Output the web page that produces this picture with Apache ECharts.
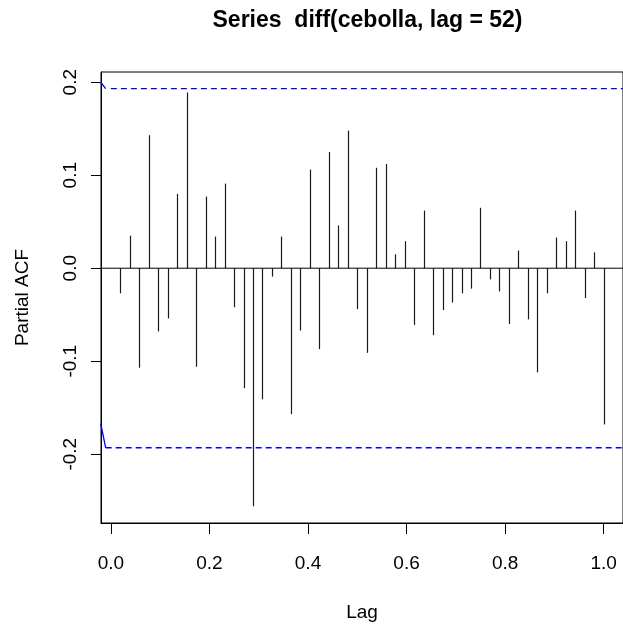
<!DOCTYPE html>
<html>
<head>
<meta charset="utf-8">
<script src="https://cdn.jsdelivr.net/npm/echarts@6/dist/echarts.min.js"></script>
<style>
html,body{margin:0;padding:0;background:#fff;}
#chart{width:623px;height:628px;}
</style>
</head>
<body>
<div id="chart"></div>
<script>
// Data (partial autocorrelations, lags 1..52 of a weekly series)
const frequency = 52;
const pacfValues = [
  -0.027, 0.035, -0.107, 0.143, -0.068, -0.054, 0.080, 0.189, -0.106, 0.077,
   0.034, 0.091, -0.042, -0.129, -0.256, -0.141, -0.009, 0.034, -0.157, -0.067,
   0.106, -0.087, 0.125, 0.046, 0.148, -0.044, -0.091, 0.108, 0.112, 0.015,
   0.029, -0.061, 0.062, -0.072, -0.045, -0.037, -0.027, -0.022, 0.065, -0.012,
  -0.025, -0.060, 0.019, -0.055, -0.112, -0.027, 0.033, 0.029, 0.062, -0.032,
   0.017, -0.168
];
const confLimit = 0.1931;
const xTicks = [0.0, 0.2, 0.4, 0.6, 0.8, 1.0];
const yTicks = [-0.2, -0.1, 0.0, 0.1, 0.2];
const xRange = [-0.02, 1.0392];
const yRange = [-0.274, 0.211];
// small solid blue strokes at the left edge of the confidence lines
const upperStub = [[-0.0206, 0.200], [-0.0105, 0.1931]];
const lowerStub = [[-0.0206, -0.167], [-0.0105, -0.1931]];
const upperStart = 0.0;
const lowerStart = -0.0105;
const titleText = 'Series  diff(cebolla, lag = 52)';

const lagData = pacfValues.map((v, i) => [(i + 1) / frequency, v]);
const FONT = "'Liberation Sans', Arial, Helvetica, sans-serif";

const chart = echarts.init(document.getElementById('chart'), null, {renderer: 'canvas'});
chart.setOption({
  animation: false,
  backgroundColor: '#ffffff',
  title: {
    text: titleText,
    left: 362.5,
    top: 4,
    textAlign: 'center',
    textStyle: {fontFamily: FONT, fontSize: 23, fontWeight: 'bold', color: '#000'}
  },
  grid: {
    left: 101, top: 72, width: 523.3, height: 451,
    show: true, borderColor: '#000', borderWidth: 1, backgroundColor: 'transparent'
  },
  xAxis: {
    type: 'value', min: xRange[0], max: xRange[1],
    name: 'Lag', nameLocation: 'middle', nameGap: 80,
    nameTextStyle: {fontFamily: FONT, fontSize: 19, color: '#000'},
    axisLine: {show: true, onZero: false, lineStyle: {color: '#000', width: 1}},
    axisTick: {show: true, length: 11, customValues: xTicks, lineStyle: {color: '#000'}},
    axisLabel: {show: true, customValues: xTicks, margin: 31, fontFamily: FONT, fontSize: 19, color: '#000',
      formatter: v => v.toFixed(1)},
    splitLine: {show: false}
  },
  yAxis: {
    type: 'value', min: yRange[0], max: yRange[1],
    name: 'Partial ACF', nameLocation: 'middle', nameGap: 69, nameRotate: 90,
    nameTextStyle: {fontFamily: FONT, fontSize: 19, color: '#000'},
    axisLine: {show: true, onZero: false, lineStyle: {color: '#000', width: 1}},
    axisTick: {show: true, length: 10, customValues: yTicks, lineStyle: {color: '#000'}},
    axisLabel: {show: true, customValues: yTicks, rotate: 90, margin: 21, fontFamily: FONT, fontSize: 19, color: '#000',
      formatter: v => v.toFixed(1)},
    splitLine: {show: false}
  },
  series: [
    {
      type: 'custom',
      data: lagData,
      clip: true,
      renderItem: function (params, api) {
        const x = api.value(0), y = api.value(1);
        const p0 = api.coord([x, 0]);
        const p1 = api.coord([x, y]);
        const px = Math.round(p0[0]) + 0.5;
        return {type: 'line', shape: {x1: px, y1: p0[1], x2: px, y2: p1[1]},
          style: {stroke: '#1a1a1a', lineWidth: 1.2}};
      }
    },
    {
      type: 'line', data: [[xRange[0], 0], [xRange[1], 0]], symbol: 'none', silent: true,
      lineStyle: {color: '#000', width: 1}
    },
    {
      type: 'line', data: [[upperStart, confLimit], [xRange[1], confLimit]], symbol: 'none', silent: true,
      lineStyle: {color: '#0000ff', width: 1.3, type: [6, 4]}
    },
    {
      type: 'line', data: [[lowerStart, -confLimit], [xRange[1], -confLimit]], symbol: 'none', silent: true,
      lineStyle: {color: '#0000ff', width: 1.3, type: [6, 4]}
    },
    {
      type: 'line', data: upperStub, symbol: 'none', silent: true,
      lineStyle: {color: '#0000ff', width: 1.3}
    },
    {
      type: 'line', data: lowerStub, symbol: 'none', silent: true,
      lineStyle: {color: '#0000ff', width: 1.3}
    }
  ]
});
</script>
</body>
</html>
